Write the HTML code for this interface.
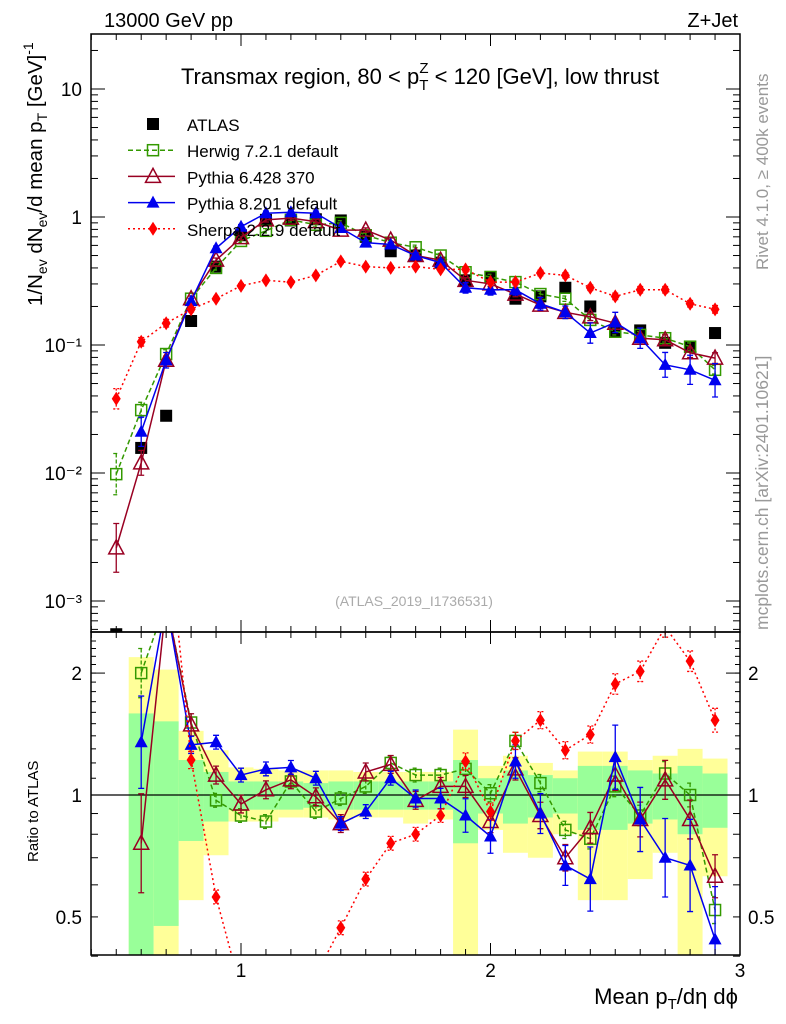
<!DOCTYPE html>
<html><head><meta charset="utf-8"><style>
html,body{margin:0;padding:0;background:#fff}
svg{display:block;font-family:"Liberation Sans",sans-serif}
</style></head><body>
<svg id="chart" width="786" height="1024" viewBox="0 0 786 1024" xmlns="http://www.w3.org/2000/svg">
<g id="bands"></g>
<g id="series"></g>
<g id="axes"></g>
<text x="104" y="27" font-size="20">13000 GeV pp</text>
<text x="738" y="27" font-size="20" text-anchor="end">Z+Jet</text>
<text x="420" y="84" font-size="22" text-anchor="middle">Transmax region, 80 &lt; p<tspan font-size="15" dy="6">T</tspan><tspan font-size="15" dx="-9" dy="-17">Z</tspan><tspan dy="11"> &lt; 120 [GeV], low thrust</tspan></text>
<text x="414" y="606" font-size="14" fill="#aaa" text-anchor="middle">(ATLAS_2019_I1736531)</text>
<text transform="translate(768,270) rotate(-90)" font-size="17" fill="#999">Rivet 4.1.0, ≥ 400k events</text>
<text transform="translate(768,630) rotate(-90)" font-size="17.5" fill="#999">mcplots.cern.ch [arXiv:2401.10621]</text>
<text transform="translate(42,306) rotate(-90)" font-size="20.5">1/N<tspan font-size="14" dy="5">ev</tspan><tspan dy="-5"> dN</tspan><tspan font-size="14" dy="5">ev</tspan><tspan dy="-5">/d mean p</tspan><tspan font-size="14" dy="5">T</tspan><tspan dy="-5"> [GeV]</tspan><tspan font-size="14" dy="-9">-1</tspan></text>
<text transform="translate(38,862) rotate(-90)" font-size="15">Ratio to ATLAS</text>
<text x="738" y="1004" font-size="22" text-anchor="end">Mean p<tspan font-size="15" dy="5">T</tspan><tspan dy="-5">/dη dϕ</tspan></text>
<g id="legend"></g>
</svg>
<script>
const xs=[0.5,0.6,0.7,0.8,0.9,1.0,1.1,1.2,1.3,1.4,1.5,1.6,1.7,1.8,1.9,2.0,2.1,2.2,2.3,2.4,2.5,2.6,2.7,2.8,2.9];
const atlas=[0.00055,0.0157,0.028,0.154,0.41,0.72,0.95,0.94,0.96,0.94,0.70,0.54,0.50,0.44,0.32,0.34,0.23,0.24,0.28,0.20,0.127,0.13,0.104,0.097,0.124];
const herwig=[0.0098,0.031,0.085,0.23,0.40,0.65,0.78,0.95,0.87,0.90,0.72,0.63,0.58,0.50,0.37,0.34,0.31,0.25,0.23,0.157,0.127,0.12,0.113,0.097,0.064];
const pythia6=[0.0026,0.012,0.076,0.23,0.46,0.69,0.95,0.98,0.92,0.79,0.79,0.66,0.50,0.46,0.32,0.30,0.25,0.205,0.18,0.166,0.148,0.113,0.11,0.087,0.079];
const pythia8=[null,0.021,0.076,0.22,0.57,0.84,1.07,1.09,1.07,0.82,0.63,0.61,0.50,0.44,0.28,0.27,0.27,0.21,0.18,0.124,0.15,0.113,0.07,0.064,0.053];
const sherpa=[0.038,0.106,0.148,0.19,0.23,0.29,0.32,0.31,0.35,0.45,0.41,0.40,0.41,0.39,0.39,0.31,0.31,0.365,0.35,0.28,0.24,0.27,0.27,0.21,0.19];
const rHerwig=[null,2.0,3.0,1.51,0.97,0.89,0.86,1.08,0.91,0.98,1.05,1.20,1.12,1.12,1.16,1.01,1.36,1.07,0.82,0.78,1.05,0.89,1.13,1.0,0.52];
const rPythia6=[null,0.76,3.0,1.49,1.12,0.95,1.03,1.09,0.99,0.85,1.14,1.19,0.97,1.05,1.05,0.86,1.16,0.89,0.70,0.83,1.12,0.87,1.09,0.87,0.63];
const rPythia8=[null,1.35,3.0,1.33,1.35,1.12,1.16,1.17,1.10,0.85,0.91,1.10,0.98,0.98,0.89,0.79,1.21,0.90,0.67,0.62,1.24,0.87,0.70,0.67,0.44];
const rSherpa=[null,6.0,5.0,1.22,0.56,0.33,0.31,0.33,0.36,0.47,0.62,0.76,0.80,0.89,1.21,0.91,1.36,1.53,1.29,1.41,1.88,2.02,2.6,2.14,1.53];
const bandYHi=[null,2.19,2.04,1.44,1.29,1.17,1.16,1.15,1.15,1.15,1.14,1.14,1.14,1.14,1.45,1.18,1.25,1.2,1.15,1.28,1.28,1.22,1.25,1.3,1.23];
const bandYLo=[null,0.3,0.3,0.55,0.71,0.86,0.86,0.88,0.88,0.87,0.88,0.88,0.85,0.87,0.37,0.82,0.72,0.7,0.8,0.55,0.55,0.62,0.72,0.38,0.63];
const bandGHi=[null,1.59,1.52,1.22,1.14,1.08,1.08,1.08,1.07,1.08,1.08,1.08,1.08,1.08,1.22,1.1,1.15,1.12,1.1,1.18,1.18,1.15,1.13,1.18,1.13];
const bandGLo=[null,0.3,0.475,0.77,0.86,0.92,0.92,0.92,0.93,0.92,0.92,0.92,0.92,0.92,0.76,0.9,0.85,0.88,0.9,0.82,0.82,0.85,0.87,0.8,0.83];
const errHerwig=[0.45,0.15,0.08,0.05,0.04,0.04,0.04,0.04,0.04,0.04,0.04,0.04,0.04,0.04,0.04,0.05,0.05,0.05,0.05,0.06,0.06,0.06,0.07,0.07,0.08];
const errPythia6=[0.55,0.25,0.08,0.05,0.04,0.04,0.04,0.04,0.04,0.04,0.04,0.04,0.04,0.04,0.05,0.05,0.05,0.06,0.06,0.07,0.07,0.08,0.09,0.09,0.1];
const errPythia8=[0,0.3,0.15,0.05,0.04,0.04,0.04,0.04,0.04,0.04,0.04,0.04,0.05,0.06,0.1,0.1,0.1,0.12,0.12,0.2,0.2,0.2,0.25,0.3,0.35];
const errSherpa=[0.2,0.08,0.07,0.05,0.04,0.04,0.04,0.04,0.04,0.04,0.04,0.04,0.04,0.04,0.05,0.05,0.05,0.05,0.05,0.05,0.06,0.06,0.06,0.06,0.07];
const mainTickLabels=["10⁻³","10⁻²","10⁻¹","1","10"];
const ratioTickVals=[0.5,1,2];
const xTickVals=[1,2,3];

const NS="http://www.w3.org/2000/svg";
const L=91,R=740,T=34,MB=632,RB=955;
const X=v=>241+(v-1)*249.5;
const Y=v=>217-Math.log10(v)*128;
const RY=v=>795-Math.log10(v)*405;
function mk(tag,attrs,parent){const e=document.createElementNS(NS,tag);for(const k in attrs)e.setAttribute(k,attrs[k]);parent.appendChild(e);return e;}
const bands=document.getElementById('bands'),ser=document.getElementById('series'),ax=document.getElementById('axes'),leg=document.getElementById('legend');

for(let i=0;i<xs.length;i++){if(bandYHi[i]==null)continue;
 const x0=X(xs[i]-0.05),x1=X(xs[i]+0.05);
 const y1=mk('rect',{x:x0,y:Math.max(MB,RY(bandYHi[i])),width:x1-x0,height:Math.min(RB,RY(bandYLo[i]))-Math.max(MB,RY(bandYHi[i])),fill:'#ffff99'},bands);
 
 
 const g1=mk('rect',{x:x0,y:Math.max(MB,RY(bandGHi[i])),width:x1-x0,height:Math.min(RB,RY(bandGLo[i]))-Math.max(MB,RY(bandGHi[i])),fill:'#99ff99'},bands);
 
 
}
mk('line',{x1:L,x2:R,y1:RY(1),y2:RY(1),stroke:'#000','stroke-width':1.3},bands);

function marker(g,type,x,y,color){
 if(type==='sq-fill')return mk('rect',{x:x-6,y:y-6,width:12,height:12,fill:'#000'},g);
 if(type==='sq-open')return mk('rect',{x:x-5.5,y:y-5.5,width:11,height:11,fill:'none',stroke:color,'stroke-width':1.5},g);
 if(type==='tri-open')return mk('path',{d:`M${x},${y-8} L${x+7.5},${y+6} L${x-7.5},${y+6}Z`,fill:'none',stroke:color,'stroke-width':1.5},g);
 if(type==='tri-fill')return mk('path',{d:`M${x},${y-7} L${x+6.5},${y+5} L${x-6.5},${y+5}Z`,fill:color},g);
 if(type==='dia')return mk('path',{d:`M${x},${y-7} L${x+4.5},${y} L${x},${y+7} L${x-4.5},${y}Z`,fill:color},g);
}
const clip1=mk('clipPath',{id:'cm'},ser);mk('rect',{x:L,y:T,width:R-L,height:MB-T},clip1);
const clip2=mk('clipPath',{id:'cr'},ser);mk('rect',{x:L,y:MB,width:R-L,height:RB-MB},clip2);

function drawSeries(name,vals,yf,clip,color,dash,type,errs,scale){
 const g=mk('g',{'clip-path':`url(#${clip})`},ser);
 
 
 let d='';
 vals.forEach((v,i)=>{if(v==null)return;d+=(d?'L':'M')+X(xs[i])+','+yf(v)+' ';});
 if(color!=null){const p=mk('path',{d,fill:'none',stroke:color,'stroke-width':1.5},g);if(dash)p.setAttribute('stroke-dasharray',dash);}
 vals.forEach((v,i)=>{if(v==null)return;const x=X(xs[i]);
  if(errs&&errs[i]){const e=errs[i]*scale;const l=mk('path',{d:`M${x},${yf(v*(1+e))}V${yf(v/(1+e))}M${x-3},${yf(v*(1+e))}H${x+3}M${x-3},${yf(v/(1+e))}H${x+3}`,stroke:color||'#000','stroke-width':1.3,fill:'none'},g);if(dash)l.setAttribute('stroke-dasharray',dash==='2,3'?'2,2':'4,2');}
  const m=marker(g,type,x,yf(v),color);
  
  
 });
}
drawSeries('atlas-data',atlas,Y,'cm',null,null,'sq-fill',null,1);
drawSeries('herwig-line',herwig,Y,'cm','#339900','5,3','sq-open',errHerwig,1);
drawSeries('pythia6-line',pythia6,Y,'cm','#990022',null,'tri-open',errPythia6,1);
drawSeries('pythia8-line',pythia8,Y,'cm','#0000ee',null,'tri-fill',errPythia8,1);
drawSeries('sherpa-line',sherpa,Y,'cm','#ff0000','2,3','dia',errSherpa,1);
drawSeries('herwig-ratio',rHerwig,RY,'cr','#339900','5,3','sq-open',errHerwig,1);
drawSeries('pythia6-ratio',rPythia6,RY,'cr','#990022',null,'tri-open',errPythia6,1.3);
drawSeries('pythia8-ratio',rPythia8,RY,'cr','#0000ee',null,'tri-fill',errPythia8,1);
drawSeries('sherpa-ratio',rSherpa,RY,'cr','#ff0000','2,3','dia',errSherpa,1);

mk('rect',{x:L,y:T,width:R-L,height:MB-T,fill:'none',stroke:'#000','stroke-width':1.5},ax);
mk('rect',{x:L,y:MB,width:R-L,height:RB-MB,fill:'none',stroke:'#000','stroke-width':1.5},ax);
for(let k=4;k<=30;k++){const v=k/10,x=X(v);if(x<L||x>R)continue;const big=k%10===0;const len=big?12:6;
 [[T,1],[MB,-1],[MB,1],[RB,-1]].forEach(([y,s])=>mk('line',{x1:x,x2:x,y1:y,y2:y+s*len,stroke:'#000','stroke-width':1},ax));}
xTickVals.forEach(v=>{const t=mk('text',{x:X(v),y:977,'font-size':19,'text-anchor':'middle'},ax);t.textContent=v;
 
 });
for(let e=-4;e<=1;e++){for(let m=1;m<=9;m++){const v=m*Math.pow(10,e),y=Y(v);if(y<T||y>MB)continue;const len=m===1?14:7;
 mk('line',{x1:L,x2:L+len,y1:y,y2:y,stroke:'#000'},ax);mk('line',{x1:R,x2:R-len,y1:y,y2:y,stroke:'#000'},ax);}}
mainTickLabels.forEach((s,i)=>{const v=Math.pow(10,i-3);const t=mk('text',{x:82,y:Y(v)+7,'font-size':19,'text-anchor':'end'},ax);t.textContent=s;
 
 });
[0.4,0.5,0.6,0.7,0.8,0.9,1,2].forEach(v=>{const y=RY(v),len=(v===1||v===2)?14:7;mk('line',{x1:L,x2:L+len,y1:y,y2:y,stroke:'#000'},ax);mk('line',{x1:R,x2:R-len,y1:y,y2:y,stroke:'#000'},ax);});
for(let v=1.1;v<2.5;v+=0.1){const y=RY(v);mk('line',{x1:L,x2:L+5,y1:y,y2:y,stroke:'#000'},ax);mk('line',{x1:R,x2:R-5,y1:y,y2:y,stroke:'#000'},ax);}
ratioTickVals.forEach(v=>{const a=mk('text',{x:82,y:RY(v)+7,'font-size':19,'text-anchor':'end'},ax);a.textContent=v;
 
 
 const b=mk('text',{x:748,y:RY(v)+7,'font-size':19},ax);b.textContent=v;
 
 });

const legNames=['ATLAS','Herwig 7.2.1 default','Pythia 6.428 370','Pythia 8.201 default','Sherpa 2.2.9 default'];
const legStyle=[[null,null,'sq-fill'],['#339900','5,3','sq-open'],['#990022',null,'tri-open'],['#0000ee',null,'tri-fill'],['#ff0000','2,3','dia']];
legNames.forEach((n,i)=>{const y=124+i*26.2;const g=mk('g',{},leg);
 
 
 const [c,d,t]=legStyle[i];
 if(c){const l=mk('line',{x1:128,x2:175,y1:y,y2:y,stroke:c,'stroke-width':1.5},g);if(d)l.setAttribute('stroke-dasharray',d);}
 marker(g,t,153,y,c);
 const tx=mk('text',{x:187,y:y+7,'font-size':17},g);tx.textContent=n;});
</script>
</body></html>
